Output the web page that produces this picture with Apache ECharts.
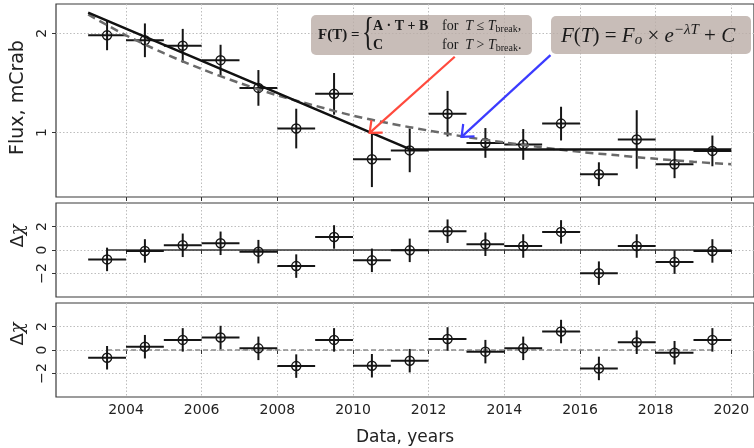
<!DOCTYPE html>
<html><head><meta charset="utf-8">
<script src="https://cdn.jsdelivr.net/npm/echarts@6/dist/echarts.min.js"></script>
<style>html,body{margin:0;padding:0;background:#fff}#c{width:754px;height:448px}</style>
</head><body><div id="c"></div>
<script>
// ---- data ----
const years      = [2003.5,2004.5,2005.5,2006.5,2007.5,2008.5,2009.5,2010.5,2011.5,2012.5,2013.5,2014.5,2015.5,2016.5,2017.5,2018.5,2019.5];
const binHalf    = [0.5,0.5,0.5,0.5,0.5,0.5,0.5,0.5,0.5,0.5,0.5,0.5,0.5,0.5,0.5,0.5,0.5];
const flux       = [1.98,1.93,1.875,1.73,1.45,1.04,1.39,0.73,0.82,1.19,0.895,0.88,1.09,0.58,0.93,0.68,0.815];
const fluxErr    = [0.15,0.17,0.17,0.155,0.18,0.2,0.21,0.28,0.22,0.23,0.15,0.155,0.17,0.12,0.295,0.14,0.155];
const residLin   = [-0.8,-0.08,0.4,0.57,-0.14,-1.37,1.11,-0.88,-0.03,1.6,0.49,0.34,1.54,-1.97,0.34,-1.03,-0.08];
const residExp   = [-0.66,0.28,0.86,1.06,0.14,-1.37,0.86,-1.34,-0.91,0.94,-0.14,0.14,1.57,-1.57,0.66,-0.23,0.86];
const residErr   = [1,1,1,1,1,1,1,1,1,1,1,1,1,1,1,1,1];
const brokenX    = [2003.0, 2011.53, 2020.0];
const brokenY    = [2.21, 0.828, 0.828];
const expX       = [2003,2004,2005,2006,2007,2008,2009,2010,2011,2012,2013,2014,2015,2016,2017,2018,2019,2020];
const expY       = [2.19,1.98,1.80,1.64,1.50,1.375,1.27,1.17,1.09,1.02,0.955,0.90,0.85,0.805,0.77,0.735,0.705,0.68];
const zeroMidX   = [2003.5, 2020.0];
const zeroBotX   = [2003.5, 2019.5];
const xTicks     = [2004,2006,2008,2010,2012,2014,2016,2018,2020];
const fluxTicks  = [1,2];
const residTicks = [-2,0,2];
const redArrow   = {tail:[2012.69,1.764], tip:[2010.44,0.996]};
const blueArrow  = {tail:[2015.22,1.78],  tip:[2012.87,0.956]};

const FONT = 'DejaVu Sans';
const SERIF = 'Liberation Serif';
const chart = echarts.init(document.getElementById('c'), null, {renderer:'canvas'});

const grids = [
  {left:56, right:0, top:4, height:193},
  {left:56, right:0, top:203, height:94},
  {left:56, right:0, top:303, height:94}
].map(g => Object.assign(g, {show:true, borderColor:'#3a3a3a', borderWidth:1.2, backgroundColor:'transparent', containLabel:false}));

const gridLine = {show:true, lineStyle:{color:'#bdbdbd', width:1, type:[1.5,2]}};

function mkX(i, last) {
  return {
    type:'value', gridIndex:i, min:2002.15, max:2020.6,
    axisLine:{show:false},
    axisTick:{show:true, inside:false, length:4, customValues:xTicks, lineStyle:{color:'#333', width:1}},
    axisLabel:{show:last, customValues:xTicks, color:'#222', fontFamily:FONT, fontSize:14, margin:6, formatter:v=>String(v)},
    splitLine:gridLine,
    name: last ? 'Data, years' : '', nameLocation:'middle', nameGap:32,
    nameTextStyle:{color:'#222', fontFamily:FONT, fontSize:17}
  };
}
function mkY(i, min, max, ticks, name, gap, fs, pad) {
  return {
    type:'value', gridIndex:i, min:min, max:max,
    axisLine:{show:false},
    axisTick:{show:true, inside:false, length:4, customValues:ticks, lineStyle:{color:'#333', width:1}},
    axisLabel:{customValues:ticks, rotate:90, color:'#222', fontFamily:FONT, fontSize:14, margin:7,
               formatter:v => (v<0 ? '\u2212'+Math.abs(v) : String(v))},
    splitLine:gridLine,
    name:name, nameLocation:'middle', nameRotate:90, nameGap:gap,
    nameTextStyle:{color:'#222', fontFamily:FONT, fontSize:fs, padding:pad,
      rich:{d:{fontFamily:FONT, fontSize:fs, color:'#222'}, c:{fontFamily:'DejaVu Serif', fontSize:fs, fontStyle:'italic', color:'#222'}}}
  };
}

function errRender(params, api) {
  const x = api.value(0), y = api.value(1), xe = api.value(2), ye = api.value(3);
  const c = api.coord([x, y]);
  const l = api.coord([x - xe, y]), r = api.coord([x + xe, y]);
  const t = api.coord([x, y + ye]), b = api.coord([x, y - ye]);
  const st = {stroke:'#151515', lineWidth:2};
  return {type:'group', children:[
    {type:'line', shape:{x1:l[0], y1:l[1], x2:r[0], y2:r[1]}, style:st},
    {type:'line', shape:{x1:t[0], y1:t[1], x2:b[0], y2:b[1]}, style:st},
    {type:'circle', shape:{cx:c[0], cy:c[1], r:4.5}, style:{fill:'rgba(0,0,0,0)', stroke:'#151515', lineWidth:1.5}}
  ]};
}
function errSeries(i, ys, errs) {
  return {type:'custom', xAxisIndex:i, yAxisIndex:i, renderItem:errRender, encode:{x:0, y:1}, z:3,
          data: years.map((x,k) => [x, ys[k], binHalf[k], errs[k]])};
}

const option = {
  animation:false,
  backgroundColor:'#fff',
  grid: grids,
  xAxis: [mkX(0,false), mkX(1,false), mkX(2,true)],
  yAxis: [mkY(0, 0.35, 2.296, fluxTicks, 'Flux, mCrab', 25, 19, [0,0,0,6]),
          mkY(1, -4, 4, residTicks, '{d|Δ}{c|χ}', 28, 18, [0,0,0,28]),
          mkY(2, -4, 4, residTicks, '{d|Δ}{c|χ}', 28, 18, [0,0,0,32])],
  series: [
    errSeries(0, flux, fluxErr),
    {type:'line', xAxisIndex:0, yAxisIndex:0, symbol:'none', z:4,
     data: expX.map((x,k)=>[x, expY[k]]), smooth:0.3,
     lineStyle:{color:'#6a6a6a', width:2.5, type:[8,5]}},
    {type:'line', xAxisIndex:0, yAxisIndex:0, symbol:'none', z:5,
     data: brokenX.map((x,k)=>[x, brokenY[k]]),
     lineStyle:{color:'#111', width:2.5}},
    {type:'line', xAxisIndex:1, yAxisIndex:1, symbol:'none', z:2,
     data: zeroMidX.map(x=>[x,0]), lineStyle:{color:'#333', width:1.4}},
    errSeries(1, residLin, residErr),
    {type:'line', xAxisIndex:2, yAxisIndex:2, symbol:'none', z:2,
     data: zeroBotX.map(x=>[x,0]), lineStyle:{color:'#8a8a8a', width:1.4, type:[5,3]}},
    errSeries(2, residExp, residErr)
  ]
};
chart.setOption(option);

function arrow(a, color) {
  const p = chart.convertToPixel({gridIndex:0}, a.tail);
  const q = chart.convertToPixel({gridIndex:0}, a.tip);
  const ang = Math.atan2(p[1]-q[1], p[0]-q[0]);
  const L = 13, h = 0.7;
  const b1 = [q[0]+L*Math.cos(ang+h), q[1]+L*Math.sin(ang+h)];
  const b2 = [q[0]+L*Math.cos(ang-h), q[1]+L*Math.sin(ang-h)];
  return [
    {type:'line', z:20, shape:{x1:p[0], y1:p[1], x2:q[0], y2:q[1]}, style:{stroke:color, lineWidth:2.2}},
    {type:'polyline', z:20, shape:{points:[b1, q, b2]}, style:{stroke:color, lineWidth:2.2, fill:null}}
  ];
}

const rich1 = {
  r:{fontFamily:SERIF, fontSize:14, fill:'#1a1a1a'},
  i:{fontFamily:SERIF, fontSize:14, fontStyle:'italic', fill:'#1a1a1a'},
  s:{fontFamily:SERIF, fontSize:10, fill:'#1a1a1a', padding:[7,0,0,0]}
};
const rich2 = {
  r:{fontFamily:SERIF, fontSize:21, fill:'#1a1a1a'},
  i:{fontFamily:SERIF, fontSize:21, fontStyle:'italic', fill:'#1a1a1a'},
  sub:{fontFamily:SERIF, fontSize:15, fontStyle:'italic', fill:'#1a1a1a', padding:[9,0,0,0]},
  sup:{fontFamily:SERIF, fontSize:15, fontStyle:'italic', fill:'#1a1a1a', padding:[0,0,12,0]}
};

const boxFill = 'rgba(186,173,166,0.8)';
const graphics = [
  {type:'rect', z:15, shape:{x:311, y:15, width:221, height:40, r:5}, style:{fill:boxFill}},
  {type:'text', z:16, x:318, y:35, style:{text:'F(T) =', font:'bold 15px "Liberation Serif"', fill:'#1a1a1a', align:'left', verticalAlign:'middle'}},
  {type:'text', z:16, x:362, y:34, scaleX:0.62, style:{text:'{', font:'40px "Liberation Serif"', fill:'#1a1a1a', align:'left', verticalAlign:'middle'}},
  {type:'text', z:16, x:373, y:26, style:{text:'A · T + B', font:'bold 14px "Liberation Serif"', fill:'#1a1a1a', align:'left', verticalAlign:'middle'}},
  {type:'text', z:16, x:373, y:45, style:{text:'C', font:'bold 14px "Liberation Serif"', fill:'#1a1a1a', align:'left', verticalAlign:'middle'}},
  {type:'text', z:16, x:442, y:26, style:{text:'{r|for  }{i|T}{r| ≤ }{i|T}{s|break}{r|,}', rich:rich1, align:'left', verticalAlign:'middle'}},
  {type:'text', z:16, x:442, y:45, style:{text:'{r|for  }{i|T}{r| > }{i|T}{s|break}{r|.}', rich:rich1, align:'left', verticalAlign:'middle'}},
  {type:'rect', z:15, shape:{x:551, y:16, width:200, height:38, r:5}, style:{fill:boxFill}},
  {type:'text', z:16, x:561, y:36, style:{text:'{i|F}{r|(}{i|T}{r|) = }{i|F}{sub|o}{r| × }{i|e}{sup|−λT}{r| + }{i|C}', rich:rich2, align:'left', verticalAlign:'middle'}}
].concat(arrow(redArrow, '#ff4a3d'), arrow(blueArrow, '#3b3bff'));
chart.setOption({graphic: graphics});
</script></body></html>
